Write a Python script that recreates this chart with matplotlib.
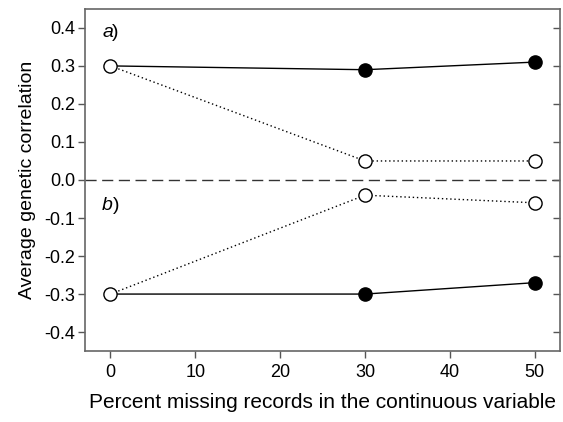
import matplotlib
matplotlib.use("Agg")
import matplotlib.pyplot as plt

plt.rcParams['font.family'] = ['Liberation Sans', 'DejaVu Sans']

pct_missing = [0, 30, 50]
a_solid = [0.30, 0.29, 0.31]
a_dotted = [0.30, 0.05, 0.05]
b_solid = [-0.30, -0.30, -0.27]
b_dotted = [-0.30, -0.04, -0.06]
yticks = [-0.4, -0.3, -0.2, -0.1, 0.0, 0.1, 0.2, 0.3, 0.4]
xticks = [0, 10, 20, 30, 40, 50]

fig = plt.figure(figsize=(5.63, 4.22), dpi=100)
ax = fig.add_axes([0.151, 0.168, 0.844, 0.811])

ax.axhline(0, color='#333333', lw=1.0, dashes=(8, 4), zorder=1)

ms = 9.5
for solid, dotted in [(a_solid, a_dotted), (b_solid, b_dotted)]:
    ax.plot(pct_missing, dotted, color='black', lw=1.0, ls=(0, (1, 2)), zorder=2)
    ax.plot(pct_missing, solid, color='black', lw=1.0, zorder=2)
    ax.plot(pct_missing[1:], dotted[1:], 'o', ms=ms, mfc='white', mec='black', mew=1.0, zorder=3)
    ax.plot(pct_missing[1:], solid[1:], 'o', ms=ms, mfc='black', mec='black', zorder=3)
    ax.plot(pct_missing[:1], solid[:1], 'o', ms=ms, mfc='white', mec='black', mew=1.0, zorder=4)

ax.set_xlim(-3, 53)
ax.set_ylim(-0.45, 0.45)
ax.set_xticks(xticks)
ax.set_yticks(yticks)
ax.set_yticklabels([f"{v:.1f}" for v in yticks])
ax.tick_params(axis='both', labelsize=13, color='#555555', length=5, width=1)
ax.tick_params(axis='x', direction='out', pad=4)
ax.tick_params(axis='y', direction='out', right=True, pad=2)
# right ticks point inward
for t in ax.yaxis.get_ticklines()[1::2]:
    t.set_marker(0)

for s in ax.spines.values():
    s.set_color('#666666')
    s.set_linewidth(1.2)

ax.text(0.036, 0.93, 'a', style='italic', fontsize=14, transform=ax.transAxes, va='center')
ax.text(0.057, 0.93, ')', fontsize=14, transform=ax.transAxes, va='center')
ax.text(0.036, 0.424, 'b', style='italic', fontsize=14, transform=ax.transAxes, va='center')
ax.text(0.058, 0.424, ')', fontsize=14, transform=ax.transAxes, va='center')

ax.set_xlabel('Percent missing records in the continuous variable', fontsize=15, labelpad=9)
ax.set_ylabel('Average genetic correlation', fontsize=14, labelpad=6)

fig.savefig('out.png', dpi=100)
